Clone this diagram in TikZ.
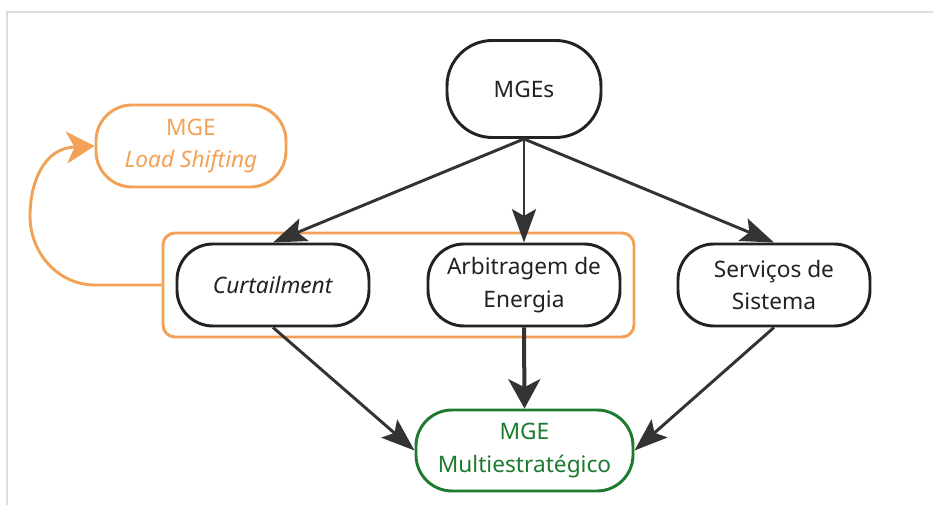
\documentclass[tikz,border=0pt]{standalone}
\usepackage{fontspec}
\setmainfont{Noto Sans}
\usetikzlibrary{arrows.meta}
\definecolor{ink}{HTML}{222222}
\definecolor{arr}{HTML}{333333}
\definecolor{orng}{HTML}{F2A157}
\definecolor{grn}{HTML}{1E7A2E}
\definecolor{frame}{HTML}{DDDDDD}
\tikzset{
  pill/.style={draw=ink, line width=2.2pt, fill=white, rounded corners=27pt,
    minimum width=144pt, minimum height=61.5pt, inner sep=0pt, align=center,
    font=\fontsize{17}{24.5}\selectfont, text=ink},
  conn/.style={draw=arr, line width=2.2pt, -{Stealth[length=25pt,width=18pt,inset=5pt]}},
  thickconn/.style={draw=arr, line width=3pt, -{Stealth[length=22pt,width=24pt,inset=6pt]}},
  oconn/.style={draw=orng, line width=2.2pt, -{Stealth[length=21pt,width=24pt,inset=6pt]}},
}
\begin{document}
\begin{tikzpicture}[x=0.75pt,y=-0.75pt]
\useasboundingbox (0,0) rectangle (933,505);
\fill[white] (0,0) rectangle (933,505);
\draw[frame, line width=1.5pt] (7,505) -- (7,12.5) -- (933,12.5);

% group rectangle
\node[draw=orng, line width=2.2pt, rounded corners=9pt, minimum width=353.25pt,
  minimum height=78pt, inner sep=0pt] (grp) at (398.5,285) {};

\node[pill, minimum width=115.5pt, minimum height=72.75pt, rounded corners=34pt] (mges) at (524,89) {MGEs};
\node[pill, draw=orng, text=orng, minimum width=142.5pt] (ls) at (191,146) {MGE\\\textit{Load Shifting}};
\node[pill] (curt) at (273,285) {\textit{Curtailment}};
\node[pill] (arb) at (524,285) {Arbitragem de\\Energia};
\node[pill] (serv) at (774,285) {Serviços de\\Sistema};
\node[pill, draw=grn, text=grn, minimum width=162.75pt, minimum height=60.75pt] (multi) at (524.5,450.5) {MGE\\Multiestratégico};

\draw[conn] (mges.south) -- (curt.north);
\draw[conn] (mges.south) -- (arb.north);
\draw[conn] (mges.south) -- (serv.north);
\draw[conn] (curt.south) -- (multi.west);
\draw[thickconn] (arb.south) -- (multi.north);
\draw[conn] (serv.south) -- (multi.east);

\coordinate (l1) at (95,285);
\coordinate (l2) at (30,216);
\coordinate (l3) at (76,147);
\draw[oconn] (grp.west) -- (l1) to[out=180,in=270] (l2) to[out=90,in=180] (l3) -- (ls.west);
\end{tikzpicture}
\end{document}
